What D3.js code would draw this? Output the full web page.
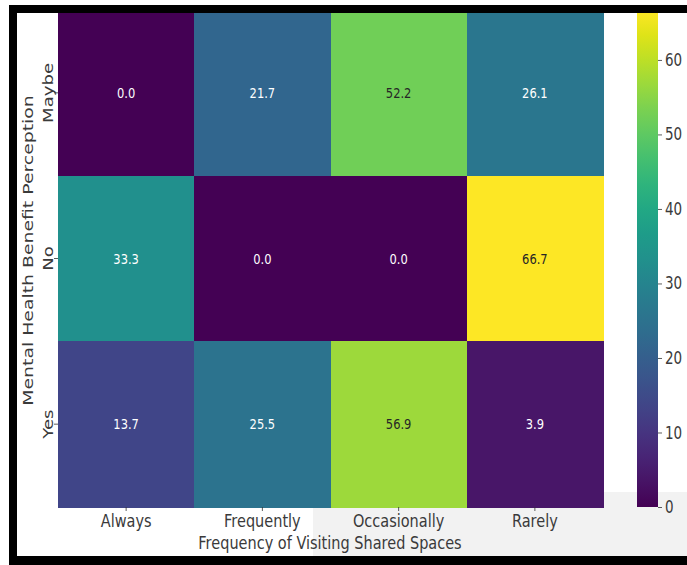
<!DOCTYPE html>
<html>
<head>
<meta charset="utf-8">
<script src="https://cdn.jsdelivr.net/npm/d3@7"></script>
<style>
  html, body { margin: 0; padding: 0; background: #fff; }
  svg { display: block; }
  text { font-family: "DejaVu Sans", sans-serif; }
</style>
</head>
<body>
<svg id="chart" width="687" height="565"></svg>
<script>
// ---- data ----
const xCategories = ["Always", "Frequently", "Occasionally", "Rarely"];
const yCategories = ["Maybe", "No", "Yes"];
const maybeValues = [0.0, 21.7, 52.2, 26.1];
const noValues    = [33.3, 0.0, 0.0, 66.7];
const yesValues   = [13.7, 25.5, 56.9, 3.9];
const colorbarTicks = [0, 10, 20, 30, 40, 50, 60];
const xTitle = "Frequency of Visiting Shared Spaces";
const yTitle = "Mental Health Benefit Perception";

const rows = [maybeValues, noValues, yesValues];
const cells = [];
rows.forEach((vals, r) => vals.forEach((v, c) => cells.push({ row: yCategories[r], col: xCategories[c], value: v })));
const vmax = d3.max(cells, d => d.value);

// ---- layout ----
const svg = d3.select("#chart");
const pLeft = 58, pRight = 603, pTop = 10, pBottom = 507;
const cbLeft = 637, cbRight = 658;
const SY = 1.25; // vertical stretch of the screenshot text

const x = d3.scaleBand().domain(xCategories).range([pLeft, pRight]);
const y = d3.scaleBand().domain(yCategories).range([pTop, pBottom]);
const color = d3.scaleSequential(d3.interpolateViridis).domain([0, vmax]);
const cbScale = d3.scaleLinear().domain([0, vmax]).range([pBottom, pTop]);

function relLum(c) {
  const f = v => { v /= 255; return v <= 0.03928 ? v / 12.92 : Math.pow((v + 0.055) / 1.055, 2.4); };
  const rgb = d3.rgb(c);
  return 0.2126 * f(rgb.r) + 0.7152 * f(rgb.g) + 0.0722 * f(rgb.b);
}

// light grey screenshot background patch
svg.append("rect").attr("x", 313).attr("y", 492).attr("width", 374).attr("height", 64).attr("fill", "#f2f2f2");

// cells
svg.append("g").attr("shape-rendering", "crispEdges").selectAll("rect").data(cells).join("rect")
  .attr("x", d => x(d.col)).attr("y", d => y(d.row))
  .attr("width", x.bandwidth() + 0.5).attr("height", y.bandwidth() + 0.5)
  .attr("fill", d => color(d.value));

// annotations
svg.append("g").selectAll("text").data(cells).join("text")
  .attr("transform", d => `translate(${x(d.col) + x.bandwidth() / 2},${y(d.row) + y.bandwidth() / 2}) scale(1,${SY})`)
  .attr("text-anchor", "middle").attr("dy", "0.35em")
  .attr("font-size", 11.5)
  .attr("fill", d => relLum(color(d.value)) > 0.408 ? "#262626" : "#ffffff")
  .text(d => d.value.toFixed(1));

// x axis ticks and labels
const xAxisG = svg.append("g");
xAxisG.selectAll("line").data(xCategories).join("line")
  .attr("x1", d => x(d) + x.bandwidth() / 2).attr("x2", d => x(d) + x.bandwidth() / 2)
  .attr("y1", pBottom).attr("y2", pBottom + 4).attr("stroke", "#333").attr("stroke-width", 0.8);
xAxisG.selectAll("text").data(xCategories).join("text")
  .attr("transform", d => `translate(${x(d) + x.bandwidth() / 2},527) scale(1,${SY})`)
  .attr("text-anchor", "middle").attr("font-size", 14.5).attr("fill", "#3a3a3a")
  .text(d => d);
svg.append("text")
  .attr("transform", `translate(${(pLeft + pRight) / 2 - 0.5},549) scale(1,${SY})`)
  .attr("text-anchor", "middle").attr("font-size", 14.5).attr("fill", "#3a3a3a")
  .text(xTitle);

// y axis ticks and labels
const yAxisG = svg.append("g");
yAxisG.selectAll("line").data(yCategories).join("line")
  .attr("x1", pLeft - 4).attr("x2", pLeft)
  .attr("y1", d => y(d) + y.bandwidth() / 2).attr("y2", d => y(d) + y.bandwidth() / 2)
  .attr("stroke", "#333").attr("stroke-width", 0.8);
yAxisG.selectAll("text").data(yCategories).join("text")
  .attr("transform", d => `translate(53,${y(d) + y.bandwidth() / 2}) scale(1,${SY}) rotate(-90)`)
  .attr("text-anchor", "middle").attr("font-size", 14.5).attr("fill", "#3a3a3a")
  .text(d => d);
svg.append("text")
  .attr("transform", `translate(33,${(pTop + pBottom) / 2 - 8}) scale(1,1.3) rotate(-90)`)
  .attr("text-anchor", "middle").attr("font-size", 14.5).attr("fill", "#3a3a3a")
  .text(yTitle);

// colorbar
const defs = svg.append("defs");
const grad = defs.append("linearGradient").attr("id", "cb").attr("x1", 0).attr("y1", 1).attr("x2", 0).attr("y2", 0);
d3.range(0, 1.0001, 0.05).forEach(t => grad.append("stop").attr("offset", t).attr("stop-color", color(t * vmax)));
svg.append("rect").attr("x", cbLeft).attr("y", pTop).attr("width", cbRight - cbLeft).attr("height", pBottom - pTop).attr("fill", "url(#cb)");
const cbG = svg.append("g").attr("transform", `translate(${cbRight},0)`);
const cbAxis = d3.axisRight(cbScale).tickValues(colorbarTicks).tickSize(4).tickPadding(3).tickFormat(d3.format("d"));
cbG.call(cbAxis);
cbG.select(".domain").remove();
cbG.selectAll(".tick line").attr("stroke", "#333").attr("stroke-width", 0.8);
cbG.selectAll(".tick text")
  .attr("font-family", "DejaVu Sans, sans-serif").attr("font-size", 13.5).attr("fill", "#3a3a3a")
  .attr("x", 0).attr("dy", null)
  .attr("transform", `translate(7,0) scale(1,${SY})`)
  .attr("dominant-baseline", "central");

// screenshot black frame (left, top, bottom)
svg.append("rect").attr("x", 9).attr("y", 5).attr("width", 678).attr("height", 8).attr("fill", "#000");
svg.append("rect").attr("x", 9).attr("y", 5).attr("width", 8).attr("height", 560).attr("fill", "#000");
svg.append("rect").attr("x", 9).attr("y", 556).attr("width", 678).attr("height", 9).attr("fill", "#000");
</script>
</body>
</html>
